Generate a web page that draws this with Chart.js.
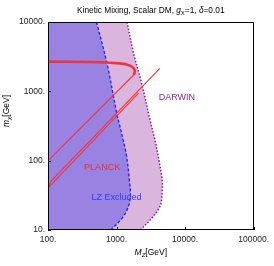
<!DOCTYPE html>
<html><head><meta charset="utf-8">
<script src="https://cdn.jsdelivr.net/npm/chart.js@4"></script>
<style>html,body{margin:0;padding:0;background:#fff}canvas{display:block}</style>
</head><body>
<canvas id="c" width="274" height="266"></canvas>
<script>
// ---- data ----
const xTicks = [100, 1000, 10000, 100000];
const yTicks = [10, 100, 1000, 10000];
const xTickLabels = ["100.", "1000.", "10000.", "100000."];
const yTickLabels = ["10.", "100.", "1000.", "10000."];

const lzMZ   = [510, 734, 1000, 1375, 1538, 1590, 1421, 1143, 820];
const lzMchi = [10000, 2400, 500, 129, 52.6, 30, 19.4, 13.9, 10];

const darwinMZ   = [1421, 1774, 2388, 3078, 3633, 4148, 4624, 4624, 4285, 3078, 2213];
const darwinMchi = [10000, 3540, 1167, 386, 199, 102, 52.6, 33.8, 21.7, 13.9, 10];

const planckUpperMZ   = [100, 600, 1100, 1450, 1680, 1820, 1840, 1780];
const planckUpperMchi = [2680, 2630, 2530, 2420, 2260, 2080, 1900, 1720];

const planckDiagMZ   = [1780, 100];
const planckDiagMchi = [1720, 100];

const planckResAMZ   = [4285, 109];
const planckResAMchi = [2148, 49.7];

const planckResBMZ   = [2092, 104, 109];
const planckResBMchi = [946, 42, 49.7];

const labels = [
  {text: "PLANCK", mz: 616, mchi: 78.4, color: "#e8303a"},
  {text: "LZ Excluded", mz: 1000, mchi: 29.2, color: "#3a3aee"},
  {text: "DARWIN", mz: 7590, mchi: 809, color: "#8e2a93"}
];

const pts = (xs, ys) => xs.map((x, i) => ({x: x, y: ys[i]}));
const FONT = "'Liberation Sans', Arial, sans-serif";

function richWidth(ctx, segs, size) {
  let w = 0;
  for (const s of segs) {
    ctx.font = (s.i ? "italic " : "") + (s.sub ? size * 0.72 : size) + "px " + FONT;
    w += ctx.measureText(s.t).width;
  }
  return w;
}
function drawRich(ctx, segs, x, y, size, color) {
  const w = richWidth(ctx, segs, size);
  let cx = x - w / 2;
  ctx.fillStyle = color;
  ctx.textBaseline = "middle";
  ctx.textAlign = "left";
  for (const s of segs) {
    ctx.font = (s.i ? "italic " : "") + (s.sub ? size * 0.72 : size) + "px " + FONT;
    ctx.fillText(s.t, cx, s.sub ? y + size * 0.25 : y);
    cx += ctx.measureText(s.t).width;
  }
}

const decor = {
  id: "decor",
  afterDatasetsDraw(chart) {
    const ctx = chart.ctx, a = chart.chartArea;
    const xs = chart.scales.x, ys = chart.scales.y;
    ctx.save();
    // labels
    ctx.font = "9px " + FONT;
    ctx.textAlign = "center";
    ctx.textBaseline = "middle";
    for (const l of labels) {
      ctx.fillStyle = l.color;
      ctx.fillText(l.text, xs.getPixelForValue(l.mz), ys.getPixelForValue(l.mchi));
    }
    // frame
    ctx.strokeStyle = "#000";
    ctx.lineWidth = 1;
    ctx.strokeRect(Math.round(a.left) + 0.5, Math.round(a.top) + 0.5,
                   Math.round(a.right - a.left) - 1, Math.round(a.bottom - a.top) - 1);
    // inward ticks
    ctx.beginPath();
    for (const v of xTicks) {
      const px = Math.round(xs.getPixelForValue(v)) + 0.5;
      ctx.moveTo(px, a.bottom); ctx.lineTo(px, a.bottom - 3);
    }
    for (const v of yTicks) {
      const py = Math.round(ys.getPixelForValue(v)) + 0.5;
      ctx.moveTo(a.left, py); ctx.lineTo(a.left + 3, py);
    }
    ctx.stroke();
    // title
    const cxm = (a.left + a.right) / 2;
    drawRich(ctx, [{t: "Kinetic Mixing, Scalar DM, "}, {t: "g", i: 1}, {t: "X", sub: 1},
                   {t: "=1, "}, {t: "δ", i: 1}, {t: "=0.01"}], cxm, 11, 8.3, "#000");
    drawRich(ctx, [{t: "M", i: 1}, {t: "Z", sub: 1, i: 1}, {t: "[GeV]"}], cxm, 253, 8.5, "#000");
    ctx.translate(7, 111);
    ctx.rotate(-Math.PI / 2);
    drawRich(ctx, [{t: "m", i: 1}, {t: "χ", sub: 1, i: 1}, {t: "[GeV]"}], 0, 0, 8.5, "#000");
    ctx.restore();
  }
};

const lineBase = {pointRadius: 0, showLine: true, fill: false, tension: 0};

new Chart(document.getElementById("c"), {
  type: "line",
  data: {
    datasets: [
      Object.assign({}, lineBase, {data: pts(planckUpperMZ, planckUpperMchi), borderColor: "#f0343c", borderWidth: 2.6, tension: 0.4}),
      Object.assign({}, lineBase, {data: pts(planckDiagMZ, planckDiagMchi), borderColor: "#f0343c", borderWidth: 1.1}),
      Object.assign({}, lineBase, {data: pts(planckResAMZ, planckResAMchi), borderColor: "#f0343c", borderWidth: 1.1}),
      Object.assign({}, lineBase, {data: pts(planckResBMZ, planckResBMchi), borderColor: "#f0343c", borderWidth: 1.1}),
      Object.assign({}, lineBase, {data: pts(lzMZ, lzMchi), indexAxis: "y", borderColor: "#2020f0", borderWidth: 1.3,
        borderDash: [3, 2], fill: {value: 100}, backgroundColor: "#9a82e2", tension: 0.35}),
      Object.assign({}, lineBase, {data: pts(darwinMZ, darwinMchi), indexAxis: "y", borderColor: "#8b1c8e", borderWidth: 1.5,
        borderDash: [1.5, 1.8], fill: {value: 100}, backgroundColor: "#dab5dd", tension: 0.35})
    ]
  },
  options: {
    responsive: false,
    devicePixelRatio: 1,
    animation: false,
    layout: {padding: {top: 22, right: 17, left: 0, bottom: 0}},
    plugins: {legend: {display: false}, tooltip: {enabled: false}, title: {display: false}},
    scales: {
      x: {
        type: "logarithmic", min: 100, max: 100000, position: "bottom",
        grid: {display: false, drawTicks: false},
        border: {display: false},
        afterBuildTicks: s => { s.ticks = xTicks.map(v => ({value: v})); },
        afterFit: s => { s.height = 36; },
        ticks: {autoSkip: false, maxRotation: 0, padding: 5, color: "#222",
          font: {family: FONT, size: 8.5},
          callback: (v) => xTickLabels[xTicks.indexOf(v)]}
      },
      y: {
        type: "logarithmic", min: 10, max: 10000, position: "left",
        grid: {display: false, drawTicks: false},
        border: {display: false},
        afterBuildTicks: s => { s.ticks = yTicks.map(v => ({value: v})); },
        afterFit: s => { s.width = 48; },
        ticks: {autoSkip: false, padding: 3, color: "#222",
          font: {family: FONT, size: 8.5},
          callback: (v) => yTickLabels[yTicks.indexOf(v)]}
      }
    }
  },
  plugins: [decor]
});
</script>
</body></html>
